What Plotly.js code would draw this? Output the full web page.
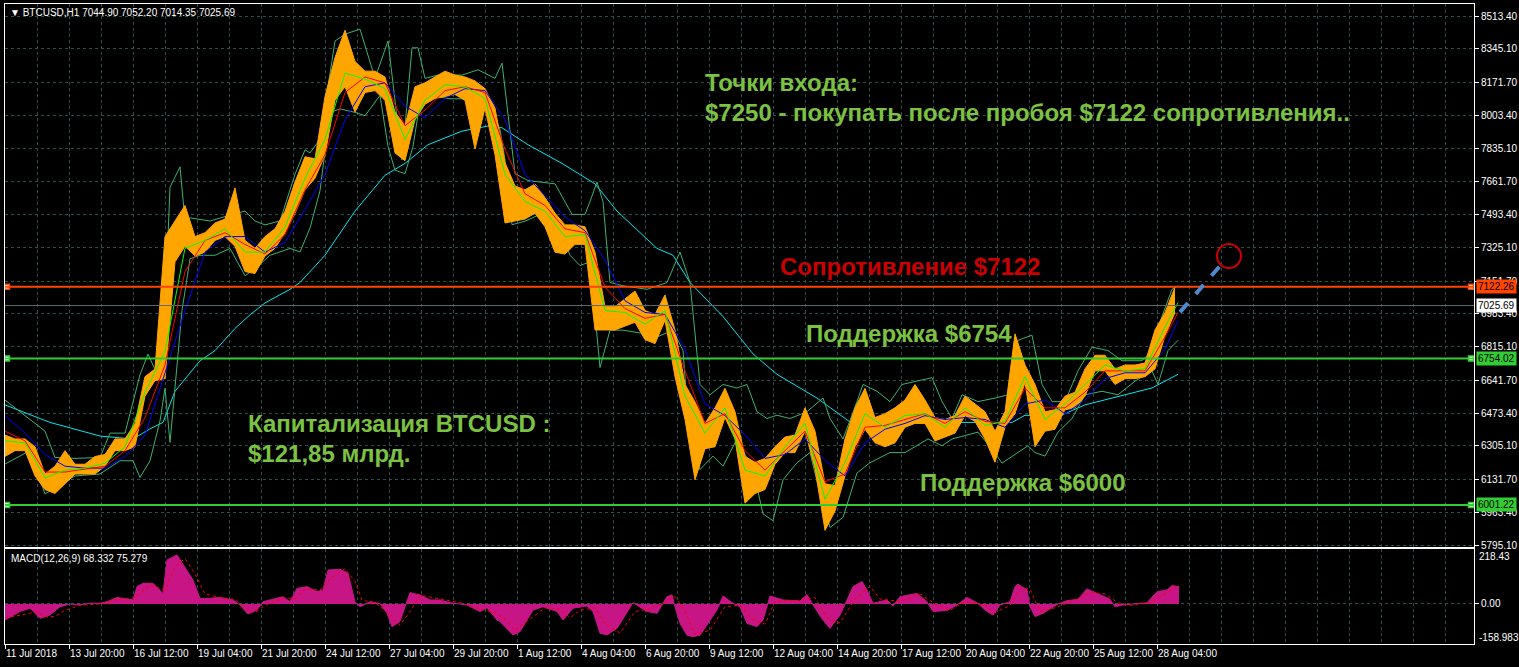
<!DOCTYPE html>
<html>
<head>
<meta charset="utf-8">
<script src="https://cdn.plot.ly/plotly-3.0.1.min.js"></script>
<style>html,body{margin:0;padding:0;background:#000;}#chart{width:1519px;height:667px;}</style>
</head>
<body>
<div id="chart"></div>
<script>
// ---------- DATA ----------
// price ribbon, one reading every 10 hourly bars starting at chart position 5
const priceHigh = [6360,6340,6340,6300,6160,6200,6280,6210,6210,6250,
  6260,6340,6340,6420,6660,6700,7380,7460,7540,7380,
  7400,7450,7470,7630,7360,7320,7380,7420,7510,7660,
  7790,7780,8100,8300,8440,8280,8230,8230,8200,8020,
  7950,8150,8170,8200,8230,8210,8200,8180,8140,8040,
  7760,7640,7620,7650,7580,7500,7440,7440,7430,7300,
  7020,7020,7060,7100,7000,6980,7080,6900,6620,6530,
  6420,6500,6600,6480,6250,6220,6240,6300,6350,6360,
  6500,6380,6110,6100,6340,6500,6600,6450,6470,6500,
  6540,6620,6540,6450,6440,6460,6560,6520,6480,6380,
  6480,6880,6720,6620,6480,6490,6560,6580,6700,6770,
  6770,6700,6720,6720,6730,6900,6990,7120];
const priceLow = [6250,6280,6280,6150,6080,6060,6110,6160,6160,6160,
  6200,6280,6280,6300,6560,6640,6650,7250,7330,7280,
  7300,7360,7380,7330,7200,7190,7280,7320,7400,7500,
  7620,7680,7800,8080,8150,8020,8120,8130,8080,7810,
  7770,7980,8060,8090,8100,8110,8080,7830,8040,7800,
  7450,7460,7470,7500,7430,7300,7290,7340,7340,6900,
  6900,6900,6920,6940,6850,6830,6950,6660,6440,6130,
  6290,6300,6450,6340,6010,6060,6080,6210,6270,6270,
  6380,6190,5870,5970,6150,6300,6390,6320,6300,6320,
  6400,6420,6420,6330,6350,6370,6460,6430,6340,6220,
  6400,6470,6630,6300,6380,6390,6490,6500,6560,6690,
  6690,6620,6650,6650,6660,6700,6870,6990];
const priceStart = 5, priceStep = 10;

// moving averages
const maX = [5,25,45,65,85,105,125,145,165,185,205,225,245,265,285,305,325,345,365,385,405,425,445,465,485,505,525,545,565,585,605,625,645,665,685,705,725,745,765,785,805,825,845,865,885,905,925,945,965,985,1005,1025,1045,1065,1085,1105,1125,1145,1165,1178];
const maFast = [6330,6320,6140,6180,6190,6215,6300,6580,6790,7320,7360,7420,7300,7300,7430,7680,7880,8220,8190,8140,7880,8080,8160,8150,8090,7700,7560,7510,7380,7390,7000,6990,6930,7000,6560,6370,6500,6180,6150,6300,6420,6030,6220,6470,6400,6460,6470,6400,6500,6410,6430,6660,6440,6520,6620,6720,6690,6700,6915,7040];
const maMid = [6380,6330,6170,6170,6185,6200,6280,6450,6720,7200,7360,7400,7340,7290,7390,7620,7800,8120,8200,8170,7950,8030,8130,8150,8120,7830,7600,7540,7420,7400,7120,7010,6960,6980,6690,6420,6470,6280,6180,6280,6380,6120,6160,6400,6410,6440,6470,6420,6480,6430,6420,6600,6500,6500,6580,6690,6690,6690,6864,6990];
const maSlow = [6460,6370,6260,6200,6190,6190,6250,6360,6680,7000,7300,7380,7380,7300,7350,7520,7700,7980,8150,8170,8050,7990,8090,8140,8130,7980,7700,7590,7480,7410,7260,7050,6990,6980,6800,6520,6460,6360,6240,6260,6340,6230,6150,6320,6390,6420,6460,6440,6450,6440,6400,6520,6540,6470,6540,6650,6680,6680,6800,6950];

// long moving average (cyan)
const maLongX = [5,50,100,133,150,163,175,200,215,235,250,265,290,300,325,355,385,405,428,462,488,502,528,562,595,617,657,673,690,723,753,777,817,850,890,935,985,1012,1025,1058,1085,1118,1152,1178];
const maLong = [6515,6425,6355,6340,6392,6425,6585,6742,6794,6908,6978,7039,7109,7144,7284,7511,7695,7756,7852,7922,7948,7939,7852,7756,7651,7511,7319,7284,7144,6969,6777,6672,6550,6427,6418,6425,6425,6425,6462,6455,6515,6558,6602,6672];

// Bollinger bands
const bandUpX = [5,20,37,45,55,75,100,110,125,140,148,160,165,170,180,185,190,210,230,245,255,265,280,295,305,310,320,335,345,360,375,388,402,412,418,425,438,462,478,495,502,508,515,528,555,572,585,590,597,603,610,623,647,667,680,690,700,710,723,737,747,757,767,777,790,807,823,830,843,857,863,877,890,902,918,932,942,952,962,978,995,1008,1018,1032,1042,1052,1065,1078,1092,1108,1122,1142,1152,1162,1172,1178];
const bandUp = [6540,6480,6410,6380,6245,6240,6245,6370,6370,6670,6776,6640,7000,7634,7738,7460,7476,7460,7490,7511,7460,7440,7460,7700,7826,7810,7880,8385,8420,8446,8193,8385,7773,8350,8350,8193,8210,8210,8237,8193,8271,8018,7703,7668,7651,7494,7494,7560,7660,7560,7144,7127,7109,7144,7301,7144,6620,6567,6620,6602,6620,6480,6445,6462,6445,6480,6550,6445,6340,6532,6620,6585,6532,6620,6637,6655,6532,6445,6567,6532,6550,6567,6847,6873,6620,6532,6532,6690,6812,6794,6742,6742,6794,6970,7109,7127];
const bandLoX = [5,30,45,55,75,100,120,133,140,150,160,165,170,175,182,190,200,215,230,245,255,270,290,300,310,320,330,340,355,365,380,388,395,405,413,420,430,450,470,480,492,500,505,512,525,540,555,570,580,590,600,610,623,643,657,673,683,690,700,713,723,737,753,763,773,783,797,810,820,830,843,857,870,883,890,905,928,942,952,978,992,1002,1018,1028,1035,1045,1058,1072,1085,1102,1118,1135,1152,1158,1168,1178];
const bandLo = [6211,6280,6057,6090,6150,6160,6228,6228,6142,6228,6433,6600,6322,6600,7000,7266,7284,7284,7319,7179,7214,7284,7319,7301,7424,7616,8018,8036,8018,8001,8105,7843,7721,7703,7843,8070,8105,8088,8088,8036,8036,7930,7773,7441,7459,7494,7476,7284,7231,7250,6707,6899,6899,6882,6864,6899,6794,6322,6183,6252,6200,6340,6183,5955,5920,6130,6218,6270,6060,5885,5937,6165,6218,6252,6270,6270,6340,6305,6340,6375,6288,6216,6270,6305,6270,6252,6375,6445,6567,6585,6567,6637,6690,6620,6794,6847];

// MACD(12,26,9)
const macdX = [5,20,30,37,40,50,60,70,80,90,100,107,117,133,137,143,153,163,167,177,187,193,200,207,220,233,240,248,257,263,283,290,297,307,317,323,328,340,348,355,360,370,380,387,392,400,405,410,420,430,440,450,467,480,487,497,500,513,520,533,543,557,563,573,587,593,600,607,617,627,633,647,657,667,672,675,680,687,693,700,707,717,723,733,740,747,757,763,770,783,800,807,813,823,830,840,847,853,862,867,873,887,893,900,917,927,933,947,957,967,977,987,993,1000,1010,1015,1018,1027,1030,1035,1043,1058,1067,1078,1087,1100,1110,1115,1123,1147,1157,1167,1172,1179];
const macdHist = [-64,-30,-17,-44,-57,-44,-11,0,-4,3,3,9,26,16,69,82,82,42,175,195,135,95,22,22,26,16,-4,-40,-24,9,29,9,62,69,49,56,135,138,122,9,-11,9,2,-37,-90,-70,-11,45,36,16,16,5,-4,-30,-15,-64,-70,-123,-110,-24,-11,-30,-64,-17,-8,-30,-116,-123,-97,-30,5,-30,-37,29,36,-11,-77,-124,-130,-124,-84,-24,32,3,-11,-77,-90,-64,32,16,12,38,-4,-64,-97,-44,16,69,89,56,3,16,-8,29,42,9,-30,-26,-4,26,5,-30,-44,-4,9,69,79,56,-11,-50,-37,0,13,19,60,36,19,-11,-4,5,49,56,73,69];
const signalX = [5,20,37,45,55,65,80,100,120,135,150,165,175,185,195,205,220,235,245,255,265,285,295,305,320,330,345,355,362,375,390,400,410,420,440,460,480,495,505,515,530,545,560,570,580,595,605,620,635,650,665,675,685,695,710,725,740,752,765,775,800,815,828,840,855,870,880,900,920,935,950,965,985,995,1010,1020,1030,1040,1055,1075,1090,1105,1118,1130,1150,1165,1179];
const signalV = [-55,-45,-30,-50,-50,-25,-5,0,20,25,75,55,150,180,120,40,25,18,-15,-35,-5,25,20,60,55,100,140,90,15,5,-40,-85,-30,35,20,5,-20,-35,-60,-105,-60,-15,-20,-55,-25,-15,-80,-115,-30,-20,5,30,-30,-120,-105,-10,-5,-60,-80,10,15,25,-60,-75,20,70,20,10,40,0,-25,10,-5,-35,-5,60,60,-30,-15,15,45,40,5,-5,5,40,75];

// levels
const resistance = 7122.26, lastPrice = 7025.69, support1 = 6754.02, support2 = 6001.22;
const target = 7280, projStart = 6992, projEnd = 7265;

// axes labels
const priceTicks = [8513.40,8345.10,8171.70,8003.40,7835.10,7661.70,7493.40,7325.10,7151.70,6983.40,6815.10,6641.70,6473.40,6305.10,6131.70,5963.40,5795.10];
const timeTickPos = [5,69,133,197,261,325,389,453,517,581,645,709,773,837,901,965,1029,1093,1157];
const timeLabels = ["11 Jul 2018","13 Jul 20:00","16 Jul 12:00","19 Jul 04:00","21 Jul 20:00","24 Jul 12:00","27 Jul 04:00","29 Jul 20:00","1 Aug 12:00","4 Aug 04:00","6 Aug 20:00","9 Aug 12:00","12 Aug 04:00","14 Aug 20:00","17 Aug 12:00","20 Aug 04:00","22 Aug 20:00","25 Aug 12:00","28 Aug 04:00"];

// ---------- DRAW ----------
const W = 1519, H = 667;
const px = v => v / W, py = v => 1 - v / H;
const priceX = priceHigh.map((_, i) => priceStart + i * priceStep);
const GRID = '#2F4F4F', FONT = 'Liberation Sans, Arial, DejaVu Sans, sans-serif';
const GREEN_TXT = '#7CC242';

const line = (x, y, color, extra) => Object.assign({x, y, type:'scatter', mode:'lines', hoverinfo:'skip',
  line:{color, width:1}, xaxis:'x', yaxis:'y'}, extra || {});

const data = [
  line(maLongX, maLong, '#00E8F0'),
  line(bandUpX, bandUp, '#3CB371'),
  line(bandLoX, bandLo, '#3CB371'),
  line(priceX, priceLow, '#FFA500'),
  line(priceX, priceHigh, '#FFA500', {fill:'tonexty', fillcolor:'#FFA500'}),
  line(maX, maSlow, '#0000FF'),
  line(maX, maMid, '#FF0000'),
  line(maX, maFast, '#00FF00'),
  {x:[7,1471,7,1471,7,1471], y:[resistance,resistance,support1,support1,support2,support2], type:'scatter', mode:'markers',
   xaxis:'x', yaxis:'y', hoverinfo:'skip',
   marker:{symbol:'square', size:5, color:'#FFFFFF', line:{width:1.5, color:['#FF4500','#FF4500','#32CD32','#32CD32','#32CD32','#32CD32']}}},
  {x: macdX, y: macdHist, type:'scatter', mode:'lines', fill:'tozeroy', fillcolor:'#C71585',
   line:{color:'#C71585', width:1}, xaxis:'x2', yaxis:'y2', hoverinfo:'skip'},
  {x: signalX, y: signalV, type:'scatter', mode:'lines', line:{color:'#FF0000', width:1, dash:'dot'},
   xaxis:'x2', yaxis:'y2', hoverinfo:'skip'}
];

const ann = (x, y, text, size, color, extra) => Object.assign({xref:'paper', yref:'paper', x:px(x), y:py(y), text,
  showarrow:false, xanchor:'left', yanchor:'middle', font:{family:FONT, size, color}}, extra || {});

const bold = (x, y, text, color) => ann(x, y, '<b>' + text + '</b>', 24, color);

const levelLabel = (val, bg, fg) => ({xref:'paper', yref:'y', x:px(1476), y:val, text:val.toFixed(2), showarrow:false,
  xanchor:'left', yanchor:'middle', bgcolor:bg, borderpad:1, font:{family:FONT, size:10, color:fg}});

const annotations = [
  ann(8, 12, '▼ BTCUSD,H1 7044.90 7052.20 7014.35 7025.69', 10, '#FFFFFF'),
  ann(9, 558, 'MACD(12,26,9) 68.332 75.279', 10, '#FFFFFF'),
  ann(1477, 556, '218.43', 10, '#FFFFFF'),
  ann(1477, 637, '-158.983', 10, '#FFFFFF'),
  bold(703, 82, 'Точки входа:', GREEN_TXT),
  bold(703, 113, '$7250 - покупать после пробоя $7122 сопротивления..', GREEN_TXT),
  bold(778, 266, 'Сопротивление $7122', '#CC0000'),
  bold(804, 333, 'Поддержка $6754', GREEN_TXT),
  bold(246, 423, 'Капитализация BTCUSD :', GREEN_TXT),
  bold(246, 453, '$121,85 млрд.', GREEN_TXT),
  bold(918, 482, 'Поддержка $6000', GREEN_TXT),
  levelLabel(resistance, '#FF4500', '#000000'),
  levelLabel(lastPrice, '#FFFFFF', '#000000'),
  levelLabel(support1, '#32CD32', '#000000'),
  levelLabel(support2, '#32CD32', '#000000')
];

const hline = (y, color, width) => ({type:'line', xref:'x', yref:'y', x0:5, x1:1474, y0:y, y1:y, line:{color, width}, layer:'above'});
const shapes = [
  hline(lastPrice, '#5A6A6A', 1),
  hline(resistance, '#FF4500', 2),
  hline(support1, '#32CD32', 2),
  hline(support2, '#32CD32', 2),
  {type:'line', xref:'x', yref:'y', x0:1180, x1:1226, y0:projStart, y1:projEnd, line:{color:'#4F8AD0', width:4, dash:'dash'}},
  {type:'circle', xref:'x', yref:'y', xsizemode:'pixel', ysizemode:'pixel', xanchor:1229, yanchor:target,
   x0:-12, x1:12, y0:-12, y1:12, line:{color:'#CC0000', width:2}}
];

const tickFont = {family:FONT, size:10, color:'#FFFFFF'};
const xCommon = {range:[5,1474], domain:[px(5), px(1474)], tickmode:'array', tickvals:timeTickPos,
  showgrid:true, gridcolor:GRID, griddash:'3px,3px', gridwidth:1, zeroline:false,
  minor:{tickmode:'linear', tick0:5, dtick:32, showgrid:true, gridcolor:GRID, griddash:'3px,3px', ticks:''},
  showline:true, mirror:true, linecolor:'#FFFFFF', linewidth:1, fixedrange:true};

const layout = {
  width:W, height:H, margin:{l:0, r:0, t:0, b:0},
  paper_bgcolor:'#000000', plot_bgcolor:'#000000', showlegend:false,
  xaxis: Object.assign({}, xCommon, {anchor:'y', showticklabels:false, ticks:''}),
  xaxis2: Object.assign({}, xCommon, {anchor:'y2', ticktext:timeLabels, ticks:'outside', ticklen:4, tickcolor:'#FFFFFF',
    tickangle:0, ticklabelposition:'outside right', tickfont:tickFont}),
  yaxis: {domain:[py(547), py(4)], range:[5784.8, 8575.1], side:'right', anchor:'x', tickmode:'array',
    tickvals:priceTicks, ticktext:priceTicks.map(v => v.toFixed(2)), ticks:'outside', ticklen:4, tickcolor:'#FFFFFF',
    tickfont:tickFont, showgrid:true, gridcolor:GRID, griddash:'3px,3px', zeroline:false,
    showline:true, mirror:true, linecolor:'#FFFFFF', linewidth:1, fixedrange:true},
  yaxis2: {domain:[py(644), py(549)], range:[-158.983, 218.43], side:'right', anchor:'x2', tickmode:'array',
    tickvals:[0], ticktext:['0.00'], ticks:'outside', ticklen:4, tickcolor:'#FFFFFF', tickfont:tickFont,
    showgrid:true, gridcolor:GRID, griddash:'3px,3px', zeroline:false,
    showline:true, mirror:true, linecolor:'#FFFFFF', linewidth:1, fixedrange:true},
  annotations, shapes
};

Plotly.newPlot('chart', data, layout, {staticPlot:true, displayModeBar:false});
</script>
</body>
</html>
